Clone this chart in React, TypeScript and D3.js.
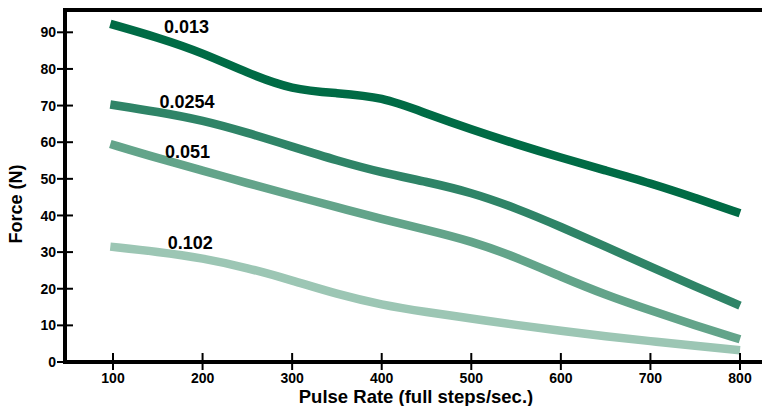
import { useRef, useEffect } from 'react';
import * as d3 from 'd3';

// pulse rates (full steps/sec) sampled along each curve
const pulseRates = [97, 150, 200, 250, 300, 350, 400, 450, 500, 550, 600, 650, 700, 750, 800];

// force (N) per lead (in)
const force0013 = [92.3, 88.6, 84.4, 78.9, 74.3, 73.4, 72.4, 67.8, 63.5, 59.5, 55.8, 52.3, 48.8, 44.8, 40.6];
const force0254 = [70.3, 68.3, 66.0, 62.6, 58.8, 55.0, 51.7, 49.2, 46.3, 42.0, 36.9, 31.5, 26.0, 20.6, 15.4];
const force051 = [59.5, 55.6, 52.3, 48.8, 45.5, 42.3, 39.0, 36.1, 33.0, 28.6, 23.3, 18.3, 14.1, 10.0, 6.2];
const force102 = [31.5, 30.1, 28.4, 25.7, 22.3, 18.5, 15.6, 13.6, 11.9, 10.1, 8.5, 7.0, 5.7, 4.4, 3.2];

const seriesNames = ['0.013', '0.0254', '0.051', '0.102'];
const seriesColors = ['#006b45', '#2f8467', '#63a48a', '#9cc6b4'];
// where each curve label sits, in data units
const labelX = [157, 152, 158, 161];
const labelY = [91.5, 71.0, 57.4, 32.6];

const xTicks = [100, 200, 300, 400, 500, 600, 700, 800];
const yTicks = [0, 10, 20, 30, 40, 50, 60, 70, 80, 90];

const W = 762;
const H = 406;

export default function App() {
  const svgRef = useRef<SVGSVGElement>(null);

  useEffect(() => {
    if (!svgRef.current) return;
    const svg = d3.select(svgRef.current);
    svg.selectAll('*').remove();

    const font = '"Liberation Sans", Arial, sans-serif';
    const left = 65;
    const top = 10;
    const bottom = 362;

    const x = d3.scaleLinear().domain([100, 800]).range([113, 740]);
    const y = d3.scaleLinear().domain([0, 90]).range([bottom, 32.3]);

    const series = [force0013, force0254, force051, force102];

    const line = d3.line<number>()
      .x((_, i) => x(pulseRates[i]))
      .y((d) => y(d))
      .curve(d3.curveBasis);

    // curves (lightest at back)
    series.slice().reverse().forEach((vals, ri) => {
      const i = series.length - 1 - ri;
      svg.append('path')
        .attr('d', line(vals))
        .attr('fill', 'none')
        .attr('stroke', seriesColors[i])
        .attr('stroke-width', 8.5)
        .attr('stroke-linecap', 'butt');
    });

    // curve labels
    seriesNames.forEach((name, i) => {
      svg.append('text')
        .attr('x', x(labelX[i]))
        .attr('y', y(labelY[i]))
        .attr('dy', '0.35em')
        .attr('font-family', font)
        .attr('font-weight', 700)
        .attr('font-size', 18)
        .attr('fill', '#000')
        .text(name);
    });

    // frame: top line, left axis, bottom axis
    svg.append('line')
      .attr('x1', left - 2).attr('x2', W)
      .attr('y1', top).attr('y2', top)
      .attr('stroke', '#000').attr('stroke-width', 4);
    svg.append('line')
      .attr('x1', left).attr('x2', left)
      .attr('y1', top - 2).attr('y2', bottom + 2)
      .attr('stroke', '#000').attr('stroke-width', 4);
    svg.append('line')
      .attr('x1', left - 2).attr('x2', W)
      .attr('y1', bottom).attr('y2', bottom)
      .attr('stroke', '#000').attr('stroke-width', 4);

    // y ticks
    yTicks.forEach((t) => {
      svg.append('line')
        .attr('x1', left - 8).attr('x2', left + 8)
        .attr('y1', y(t)).attr('y2', y(t))
        .attr('stroke', '#000').attr('stroke-width', 2);
      svg.append('text')
        .attr('x', left - 9)
        .attr('y', y(t))
        .attr('dy', '0.36em')
        .attr('text-anchor', 'end')
        .attr('font-family', font)
        .attr('font-weight', 700)
        .attr('font-size', 14)
        .text(String(t));
    });

    // x ticks
    xTicks.forEach((t) => {
      svg.append('line')
        .attr('x1', x(t)).attr('x2', x(t))
        .attr('y1', bottom - 9).attr('y2', bottom + 8)
        .attr('stroke', '#000').attr('stroke-width', 2);
      svg.append('text')
        .attr('x', x(t))
        .attr('y', bottom + 20.5)
        .attr('text-anchor', 'middle')
        .attr('font-family', font)
        .attr('font-weight', 700)
        .attr('font-size', 14)
        .text(String(t));
    });

    // axis titles
    svg.append('text')
      .attr('x', 416)
      .attr('y', 402.5)
      .attr('text-anchor', 'middle')
      .attr('font-family', font)
      .attr('font-weight', 700)
      .attr('font-size', 18.5)
      .text('Pulse Rate (full steps/sec.)');

    svg.append('text')
      .attr('transform', 'translate(22,204) rotate(-90)')
      .attr('text-anchor', 'middle')
      .attr('font-family', font)
      .attr('font-weight', 700)
      .attr('font-size', 18)
      .text('Force (N)');
  }, []);

  return (
    <svg
      ref={svgRef}
      width={W}
      height={H}
      style={{ position: 'absolute', left: 0, top: 0, display: 'block', background: '#fff' }}
    />
  );
}
